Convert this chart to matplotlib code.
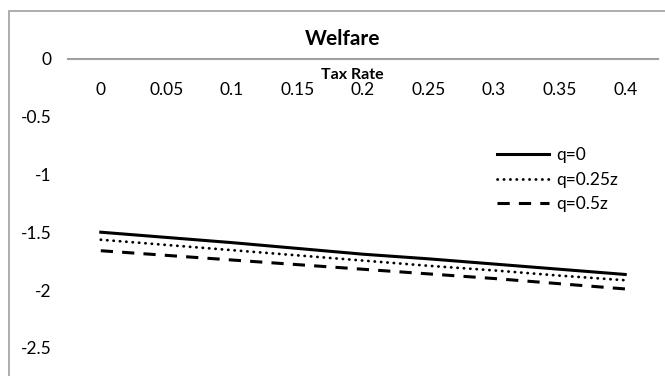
import matplotlib
matplotlib.use("Agg")
import matplotlib.pyplot as plt
from matplotlib.patches import Rectangle

plt.rcParams['font.family'] = ['Lato', 'DejaVu Sans']

tax_rate = [0, 0.05, 0.1, 0.15, 0.2, 0.25, 0.3, 0.35, 0.4]
tick_labels = ['0', '0.05', '0.1', '0.15', '0.2', '0.25', '0.3', '0.35', '0.4']
q_0 = [-1.50, -1.545, -1.59, -1.64, -1.69, -1.73, -1.775, -1.82, -1.865]
q_025z = [-1.565, -1.61, -1.655, -1.70, -1.745, -1.79, -1.83, -1.875, -1.915]
q_05z = [-1.66, -1.70, -1.74, -1.78, -1.82, -1.86, -1.90, -1.945, -1.99]
y_ticks = [0, -0.5, -1, -1.5, -2, -2.5]

W, H = 665, 376
fig = plt.figure(figsize=(W / 100, H / 100), dpi=100)

# chart frame (runs off the right and bottom edges)
fig.patches.append(Rectangle((9 / W, -0.1), 1.2, 1 - 11 / H + 0.1,
                             transform=fig.transFigure, fill=False,
                             edgecolor='#a0a0a0', linewidth=1.2))

left, right, top = 68, 658, 58.5
ax = fig.add_axes([left / W, 0, (right - left) / W, 1 - top / H])
ax.set_xlim(-0.025, 0.425)
ax.set_ylim(-(H - top) / 115.8, 0)

ax.plot(tax_rate, q_0, color='black', lw=2.2, label='q=0')
ax.plot(tax_rate, q_025z, color='black', lw=2.0, linestyle=(0, (0.1, 2.2)),
        dash_capstyle='round', label='q=0.25z')
ax.plot(tax_rate, q_05z, color='black', lw=2.2, linestyle=(0, (4, 3)),
        label='q=0.5z')

for side in ['top', 'right', 'left']:
    ax.spines[side].set_visible(False)
ax.spines['bottom'].set_position(('data', 0))
ax.spines['bottom'].set_color('#a0a0a0')
ax.spines['bottom'].set_linewidth(1.5)
ax.spines['bottom'].set_zorder(0)

ax.set_xticks(tax_rate)
ax.set_xticklabels(tick_labels)
ax.set_yticks(y_ticks)
ax.set_yticklabels(['0', '-0.5', '-1', '-1.5', '-2', '-2.5'])
ax.tick_params(axis='x', length=0, pad=17, labelsize=12.5)
ax.tick_params(axis='y', length=0, pad=12, labelsize=12.5)

ax.set_xlabel('Tax Rate', fontsize=11.5, fontweight='bold', va='center')
ax.xaxis.set_label_coords((352 - left) / (right - left), 1 - (75 - top) / (H - top))

fig.text(343 / W, 1 - 39 / H, 'Welfare', ha='center', va='center',
         fontsize=15, fontweight='bold')

ax.legend(loc='upper left', bbox_to_anchor=(490 / W, 1 - 140 / H),
          bbox_transform=fig.transFigure, frameon=False, fontsize=12.5,
          handlelength=3.0, handletextpad=0.4, labelspacing=0.5,
          borderaxespad=0)

fig.savefig('out.png', dpi=100)
